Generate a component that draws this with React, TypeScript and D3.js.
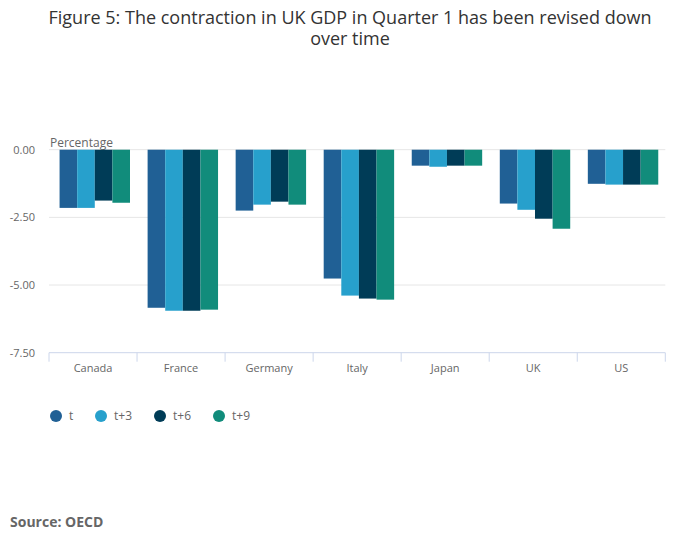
import React, { useEffect, useRef } from 'react';
import * as d3 from 'd3';

const categories = ['Canada', 'France', 'Germany', 'Italy', 'Japan', 'UK', 'US'];
const seriesNames = ['t', 't+3', 't+6', 't+9'];
const seriesT = [-2.15, -5.84, -2.25, -4.76, -0.59, -1.99, -1.26];
const seriesT3 = [-2.15, -5.95, -2.03, -5.39, -0.63, -2.22, -1.29];
const seriesT6 = [-1.88, -5.95, -1.92, -5.5, -0.59, -2.55, -1.29];
const seriesT9 = [-1.96, -5.91, -2.03, -5.54, -0.59, -2.92, -1.29];
const yTicks = [0, -2.5, -5, -7.5];
const colors = ['#206095', '#27a0cc', '#003c57', '#118c7b'];

const font = '"Open Sans", sans-serif';

const App: React.FC = () => {
    const ref = useRef<SVGSVGElement>(null);

    useEffect(() => {
        if (!ref.current) return;
        const svg = d3.select(ref.current);
        svg.selectAll('*').remove();

        const width = 700;
        const left = 49;
        const right = 665.3;
        const top = 149.7;
        const bottom = 352.7;
        const series = [seriesT, seriesT3, seriesT6, seriesT9];

        // title
        const title = svg.append('text')
            .attr('text-anchor', 'middle')
            .attr('font-family', font)
            .attr('font-size', 18)
            .attr('fill', '#333');
        title.append('tspan').attr('x', width / 2).attr('y', 24)
            .text('Figure 5: The contraction in UK GDP in Quarter 1 has been revised down');
        title.append('tspan').attr('x', width / 2).attr('y', 45).text('over time');

        const x0 = d3.scaleBand<string>()
            .domain(categories)
            .range([left, right])
            .paddingInner(0.2)
            .paddingOuter(0.1)
            .align(0.6);
        const x1 = d3.scaleBand<string>()
            .domain(seriesNames)
            .range([0, x0.bandwidth()]);
        const y = d3.scaleLinear().domain([0, -7.5]).range([top, bottom]);

        // gridlines
        svg.append('g')
            .selectAll('line')
            .data(yTicks.slice(0, 3))
            .enter().append('line')
            .attr('x1', left).attr('x2', right)
            .attr('y1', d => y(d)).attr('y2', d => y(d))
            .attr('stroke', '#e6e6e6');

        // y labels
        svg.append('g')
            .selectAll('text')
            .data(yTicks)
            .enter().append('text')
            .attr('x', 35)
            .attr('y', d => y(d) + 4)
            .attr('text-anchor', 'end')
            .attr('font-family', font)
            .attr('font-size', 11)
            .attr('fill', '#666')
            .text(d => d3.format('.2f')(d).replace('−', '-'));

        svg.append('text')
            .attr('x', 50).attr('y', 147)
            .attr('font-family', font)
            .attr('font-size', 12)
            .attr('fill', '#666')
            .text('Percentage');

        // bars
        const groups = svg.append('g')
            .selectAll('g')
            .data(categories)
            .enter().append('g')
            .attr('transform', c => `translate(${x0(c)},0)`);
        groups.selectAll('rect')
            .data((c, i) => series.map((s, k) => ({ name: seriesNames[k], value: s[i], color: colors[k] })))
            .enter().append('rect')
            .attr('x', d => x1(d.name)!)
            .attr('width', x1.bandwidth())
            .attr('y', y(0))
            .attr('height', d => y(d.value) - y(0))
            .attr('fill', d => d.color);

        // x axis
        const xAxis = svg.append('g');
        xAxis.append('line')
            .attr('x1', left).attr('x2', right)
            .attr('y1', bottom).attr('y2', bottom)
            .attr('stroke', '#ccd6eb');
        const step = (right - left) / categories.length;
        xAxis.selectAll('line.tick')
            .data(d3.range(categories.length + 1))
            .enter().append('line')
            .attr('class', 'tick')
            .attr('x1', i => left + i * step).attr('x2', i => left + i * step)
            .attr('y1', bottom).attr('y2', bottom + 9)
            .attr('stroke', '#ccd6eb');
        xAxis.selectAll('text')
            .data(categories)
            .enter().append('text')
            .attr('x', (c, i) => left + (i + 0.5) * step)
            .attr('y', 372)
            .attr('text-anchor', 'middle')
            .attr('font-family', font)
            .attr('font-size', 11)
            .attr('fill', '#666')
            .text(c => c);

        // legend
        const legendX = [56, 101, 160, 219];
        const legend = svg.append('g')
            .selectAll('g')
            .data(seriesNames)
            .enter().append('g')
            .attr('transform', (d, i) => `translate(${legendX[i]},416)`);
        legend.append('circle').attr('r', 6).attr('fill', (d, i) => colors[i]);
        legend.append('text')
            .attr('x', 13).attr('y', 4)
            .attr('font-family', font)
            .attr('font-size', 12)
            .attr('fill', '#666')
            .text(d => d);

        svg.append('text')
            .attr('x', 10).attr('y', 527)
            .attr('font-family', font)
            .attr('font-size', 14)
            .attr('font-weight', 'bold')
            .attr('fill', '#666')
            .text('Source: OECD');
    }, []);

    return (
        <svg ref={ref} width={700} height={549}
            style={{ position: 'absolute', left: 0, top: 0, background: '#fff' }}></svg>
    );
};

export default App;
